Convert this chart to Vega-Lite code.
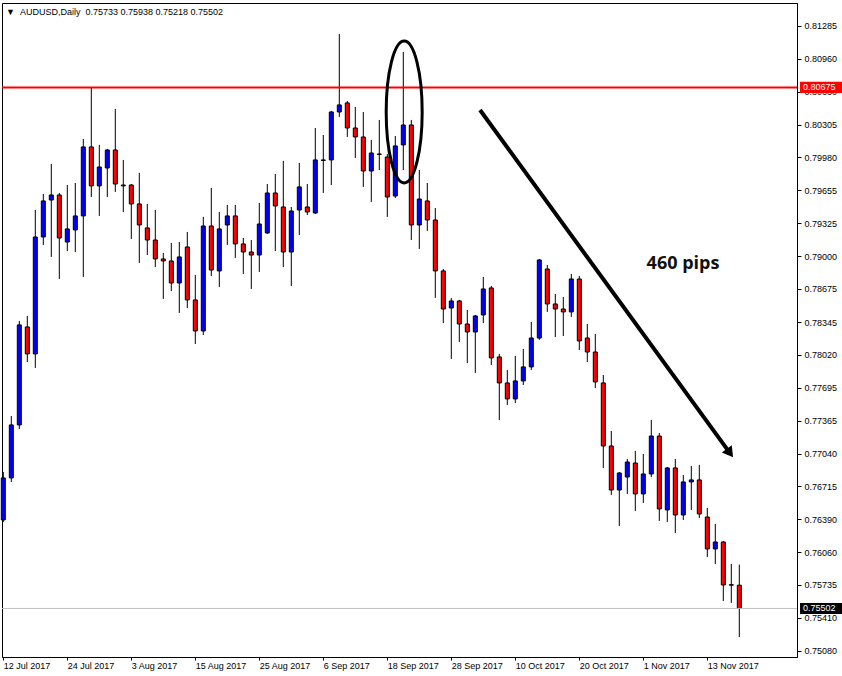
{
  "$schema": "https://vega.github.io/schema/vega-lite/v6.json",
  "width": 795,
  "height": 654,
  "autosize": {"type": "none"},
  "padding": {"left": 2, "top": 3, "right": 45, "bottom": 19},
  "background": "white",
  "config": {"view": {"stroke": "black", "strokeWidth": 1}, "font": "Liberation Sans"},
  "datasets": {
    "candles": [
      {"date":"2017-07-12","i":0,"open":0.76381,"high":0.76857,"low":0.76361,"close":0.76798},
      {"date":"2017-07-13","i":1,"open":0.76798,"high":0.77413,"low":0.76758,"close":0.77324},
      {"date":"2017-07-14","i":2,"open":0.77324,"high":0.78356,"low":0.77284,"close":0.78317},
      {"date":"2017-07-17","i":3,"open":0.78297,"high":0.78406,"low":0.77949,"close":0.78029},
      {"date":"2017-07-18","i":4,"open":0.78029,"high":0.79458,"low":0.77890,"close":0.79190},
      {"date":"2017-07-19","i":5,"open":0.79190,"high":0.79617,"low":0.79111,"close":0.79548},
      {"date":"2017-07-20","i":6,"open":0.79557,"high":0.79915,"low":0.78992,"close":0.79607},
      {"date":"2017-07-21","i":7,"open":0.79607,"high":0.79627,"low":0.78773,"close":0.79180},
      {"date":"2017-07-24","i":8,"open":0.79140,"high":0.79706,"low":0.79051,"close":0.79270},
      {"date":"2017-07-25","i":9,"open":0.79260,"high":0.79726,"low":0.79041,"close":0.79399},
      {"date":"2017-07-26","i":10,"open":0.79399,"high":0.80163,"low":0.78793,"close":0.80084},
      {"date":"2017-07-27","i":11,"open":0.80084,"high":0.80675,"low":0.79587,"close":0.79697},
      {"date":"2017-07-28","i":12,"open":0.79697,"high":0.80104,"low":0.79399,"close":0.79885},
      {"date":"2017-07-31","i":13,"open":0.79875,"high":0.80064,"low":0.79587,"close":0.80054},
      {"date":"2017-08-01","i":14,"open":0.80054,"high":0.80461,"low":0.79637,"close":0.79716},
      {"date":"2017-08-02","i":15,"open":0.79706,"high":0.79955,"low":0.79438,"close":0.79697},
      {"date":"2017-08-03","i":16,"open":0.79706,"high":0.79716,"low":0.79170,"close":0.79518},
      {"date":"2017-08-04","i":17,"open":0.79518,"high":0.79826,"low":0.78932,"close":0.79309},
      {"date":"2017-08-07","i":18,"open":0.79280,"high":0.79518,"low":0.79011,"close":0.79160},
      {"date":"2017-08-08","i":19,"open":0.79160,"high":0.79458,"low":0.78892,"close":0.78972},
      {"date":"2017-08-09","i":20,"open":0.78972,"high":0.79031,"low":0.78575,"close":0.78952},
      {"date":"2017-08-10","i":21,"open":0.78952,"high":0.79131,"low":0.78654,"close":0.78733},
      {"date":"2017-08-11","i":22,"open":0.78733,"high":0.79140,"low":0.78436,"close":0.78992},
      {"date":"2017-08-14","i":23,"open":0.79091,"high":0.79240,"low":0.78485,"close":0.78565},
      {"date":"2017-08-15","i":24,"open":0.78565,"high":0.78813,"low":0.78128,"close":0.78257},
      {"date":"2017-08-16","i":25,"open":0.78257,"high":0.79389,"low":0.78217,"close":0.79299},
      {"date":"2017-08-17","i":26,"open":0.79299,"high":0.79677,"low":0.78803,"close":0.78862},
      {"date":"2017-08-18","i":27,"open":0.78853,"high":0.79438,"low":0.78694,"close":0.79270},
      {"date":"2017-08-21","i":28,"open":0.79309,"high":0.79508,"low":0.79111,"close":0.79399},
      {"date":"2017-08-22","i":29,"open":0.79399,"high":0.79508,"low":0.78982,"close":0.79121},
      {"date":"2017-08-23","i":30,"open":0.79121,"high":0.79180,"low":0.78823,"close":0.79041},
      {"date":"2017-08-24","i":31,"open":0.79041,"high":0.79160,"low":0.78674,"close":0.79011},
      {"date":"2017-08-25","i":32,"open":0.79011,"high":0.79528,"low":0.78843,"close":0.79319},
      {"date":"2017-08-28","i":33,"open":0.79230,"high":0.79716,"low":0.79220,"close":0.79627},
      {"date":"2017-08-29","i":34,"open":0.79627,"high":0.79816,"low":0.79051,"close":0.79498},
      {"date":"2017-08-30","i":35,"open":0.79488,"high":0.79945,"low":0.78892,"close":0.79041},
      {"date":"2017-08-31","i":36,"open":0.79041,"high":0.79488,"low":0.78704,"close":0.79448},
      {"date":"2017-09-01","i":37,"open":0.79458,"high":0.79925,"low":0.79210,"close":0.79687},
      {"date":"2017-09-04","i":38,"open":0.79488,"high":0.79716,"low":0.79409,"close":0.79438},
      {"date":"2017-09-05","i":39,"open":0.79428,"high":0.80272,"low":0.79419,"close":0.79955},
      {"date":"2017-09-06","i":40,"open":0.79955,"high":0.80203,"low":0.79627,"close":0.79950},
      {"date":"2017-09-07","i":41,"open":0.79955,"high":0.80441,"low":0.79706,"close":0.80431},
      {"date":"2017-09-08","i":42,"open":0.80431,"high":0.81206,"low":0.80382,"close":0.80501},
      {"date":"2017-09-11","i":43,"open":0.80521,"high":0.80540,"low":0.80183,"close":0.80272},
      {"date":"2017-09-12","i":44,"open":0.80272,"high":0.80481,"low":0.79975,"close":0.80183},
      {"date":"2017-09-13","i":45,"open":0.80183,"high":0.80431,"low":0.79687,"close":0.79845},
      {"date":"2017-09-14","i":46,"open":0.79845,"high":0.80153,"low":0.79538,"close":0.80024},
      {"date":"2017-09-15","i":47,"open":0.80014,"high":0.80352,"low":0.79855,"close":0.80010},
      {"date":"2017-09-18","i":48,"open":0.79984,"high":0.80014,"low":0.79389,"close":0.79587},
      {"date":"2017-09-19","i":49,"open":0.79597,"high":0.80193,"low":0.79577,"close":0.80094},
      {"date":"2017-09-20","i":50,"open":0.80104,"high":0.81027,"low":0.79855,"close":0.80302},
      {"date":"2017-09-21","i":51,"open":0.80302,"high":0.80352,"low":0.79160,"close":0.79309},
      {"date":"2017-09-22","i":52,"open":0.79309,"high":0.79855,"low":0.79071,"close":0.79567},
      {"date":"2017-09-25","i":53,"open":0.79548,"high":0.79726,"low":0.79250,"close":0.79359},
      {"date":"2017-09-26","i":54,"open":0.79359,"high":0.79478,"low":0.78585,"close":0.78853},
      {"date":"2017-09-27","i":55,"open":0.78853,"high":0.78872,"low":0.78336,"close":0.78475},
      {"date":"2017-09-28","i":56,"open":0.78485,"high":0.78585,"low":0.77979,"close":0.78555},
      {"date":"2017-09-29","i":57,"open":0.78555,"high":0.78565,"low":0.78148,"close":0.78326},
      {"date":"2017-10-02","i":58,"open":0.78326,"high":0.78465,"low":0.77939,"close":0.78247},
      {"date":"2017-10-03","i":59,"open":0.78247,"high":0.78416,"low":0.77840,"close":0.78406},
      {"date":"2017-10-04","i":60,"open":0.78416,"high":0.78793,"low":0.78336,"close":0.78674},
      {"date":"2017-10-05","i":61,"open":0.78684,"high":0.78704,"low":0.77919,"close":0.77989},
      {"date":"2017-10-06","i":62,"open":0.77999,"high":0.78029,"low":0.77373,"close":0.77741},
      {"date":"2017-10-09","i":63,"open":0.77741,"high":0.77870,"low":0.77522,"close":0.77582},
      {"date":"2017-10-10","i":64,"open":0.77582,"high":0.78009,"low":0.77542,"close":0.77761},
      {"date":"2017-10-11","i":65,"open":0.77761,"high":0.78078,"low":0.77721,"close":0.77900},
      {"date":"2017-10-12","i":66,"open":0.77900,"high":0.78346,"low":0.77870,"close":0.78187},
      {"date":"2017-10-13","i":67,"open":0.78187,"high":0.78970,"low":0.78168,"close":0.78962},
      {"date":"2017-10-16","i":68,"open":0.78872,"high":0.78912,"low":0.78446,"close":0.78525},
      {"date":"2017-10-17","i":69,"open":0.78525,"high":0.78624,"low":0.78197,"close":0.78475},
      {"date":"2017-10-18","i":70,"open":0.78475,"high":0.78594,"low":0.78207,"close":0.78446},
      {"date":"2017-10-19","i":71,"open":0.78446,"high":0.78823,"low":0.78396,"close":0.78773},
      {"date":"2017-10-20","i":72,"open":0.78773,"high":0.78803,"low":0.78068,"close":0.78158},
      {"date":"2017-10-23","i":73,"open":0.78187,"high":0.78326,"low":0.77949,"close":0.78048},
      {"date":"2017-10-24","i":74,"open":0.78048,"high":0.78227,"low":0.77691,"close":0.77751},
      {"date":"2017-10-25","i":75,"open":0.77741,"high":0.77820,"low":0.76897,"close":0.77115},
      {"date":"2017-10-26","i":76,"open":0.77115,"high":0.77264,"low":0.76629,"close":0.76678},
      {"date":"2017-10-27","i":77,"open":0.76678,"high":0.76857,"low":0.76321,"close":0.76847},
      {"date":"2017-10-30","i":78,"open":0.76807,"high":0.76986,"low":0.76639,"close":0.76956},
      {"date":"2017-10-31","i":79,"open":0.76946,"high":0.77066,"low":0.76470,"close":0.76639},
      {"date":"2017-11-01","i":80,"open":0.76639,"high":0.77036,"low":0.76549,"close":0.76837},
      {"date":"2017-11-02","i":81,"open":0.76837,"high":0.77373,"low":0.76807,"close":0.77214},
      {"date":"2017-11-03","i":82,"open":0.77214,"high":0.77244,"low":0.76371,"close":0.76490},
      {"date":"2017-11-06","i":83,"open":0.76480,"high":0.76907,"low":0.76361,"close":0.76897},
      {"date":"2017-11-07","i":84,"open":0.76897,"high":0.76986,"low":0.76251,"close":0.76430},
      {"date":"2017-11-08","i":85,"open":0.76430,"high":0.76827,"low":0.76381,"close":0.76758},
      {"date":"2017-11-09","i":86,"open":0.76758,"high":0.76917,"low":0.76480,"close":0.76778},
      {"date":"2017-11-10","i":87,"open":0.76778,"high":0.76927,"low":0.76400,"close":0.76440},
      {"date":"2017-11-13","i":88,"open":0.76410,"high":0.76500,"low":0.76013,"close":0.76093},
      {"date":"2017-11-14","i":89,"open":0.76093,"high":0.76341,"low":0.75944,"close":0.76162},
      {"date":"2017-11-15","i":90,"open":0.76162,"high":0.76172,"low":0.75576,"close":0.75735},
      {"date":"2017-11-16","i":91,"open":0.75738,"high":0.75944,"low":0.75557,"close":0.75733},
      {"date":"2017-11-17","i":92,"open":0.75733,"high":0.75938,"low":0.75218,"close":0.75502}
    ]
  },
  "layer": [
    {
      "data": {"name": "candles"},
      "mark": {"type": "rule", "color": "black", "strokeWidth": 1},
      "encoding": {
        "x": {
          "field": "i", "type": "quantitative",
          "scale": {"domain": [-0.1625, 99.2125], "nice": false, "zero": false, "padding": 0},
          "axis": {
            "title": null, "grid": false, "tickCount": 30,
            "values": [0, 8, 16, 24, 32, 40, 48, 56, 64, 72, 80, 88],
            "labelExpr": "['12 Jul 2017','24 Jul 2017','3 Aug 2017','15 Aug 2017','25 Aug 2017','6 Sep 2017','18 Sep 2017','28 Sep 2017','10 Oct 2017','20 Oct 2017','1 Nov 2017','13 Nov 2017'][round(datum.value / 8)]",
            "labelAlign": "left", "labelBaseline": "top", "labelPadding": 1,
            "labelFont": "Liberation Sans", "labelFontSize": 9, "labelColor": "black",
            "labelOverlap": false, "labelFlush": false,
            "tickSize": 3, "tickColor": "black", "domainColor": "black"
          }
        },
        "y": {
          "field": "low", "type": "quantitative",
          "scale": {"domain": [0.7502, 0.81513], "nice": false, "zero": false, "padding": 0},
          "axis": {
            "orient": "right", "title": null, "grid": false, "tickCount": 40,
            "values": [0.81285, 0.8096, 0.8063, 0.80305, 0.7998, 0.79655, 0.79325, 0.79, 0.78675, 0.78345, 0.7802, 0.77695, 0.77365, 0.7704, 0.76715, 0.7639, 0.7606, 0.75735, 0.7541, 0.7508],
            "format": ".5f",
            "labelAlign": "left", "labelBaseline": "middle", "labelPadding": 3,
            "labelFont": "Liberation Sans", "labelFontSize": 9, "labelColor": "black",
            "labelOverlap": false, "labelFlush": false,
            "tickSize": 4, "tickColor": "black", "domainColor": "black"
          }
        },
        "y2": {"field": "high"}
      }
    },
    {
      "data": {"name": "candles"},
      "mark": {"type": "bar", "size": 4, "stroke": "black", "strokeWidth": 1},
      "encoding": {
        "x": {"field": "i", "type": "quantitative"},
        "y": {"field": "open", "type": "quantitative"},
        "y2": {"field": "close"},
        "fill": {
          "condition": {"test": "datum.close > datum.open", "value": "#0000ff"},
          "value": "#ff0000"
        }
      }
    },
    {
      "data": {"values": [{}]},
      "mark": {"type": "rule", "color": "#ff0000", "strokeWidth": 2},
      "encoding": {"y": {"datum": 0.80675, "type": "quantitative"}}
    },
    {
      "data": {"values": [{}]},
      "mark": {"type": "rule", "color": "#c0c0c0", "strokeWidth": 1},
      "encoding": {"y": {"datum": 0.75502, "type": "quantitative"}}
    },
    {
      "data": {"values": [{}]},
      "mark": {
        "type": "point",
        "shape": "M -0.2535 0 A 0.2535 1 0 1 0 0.2535 0 A 0.2535 1 0 1 0 -0.2535 0 Z",
        "filled": false, "stroke": "black", "strokeWidth": 3, "size": 20164, "opacity": 1
      },
      "encoding": {
        "x": {"datum": 50.11, "type": "quantitative"},
        "y": {"datum": 0.80431, "type": "quantitative"}
      }
    },
    {
      "data": {"values": [{}]},
      "mark": {"type": "rule", "color": "black", "strokeWidth": 4},
      "encoding": {
        "x": {"datum": 59.59, "type": "quantitative"},
        "y": {"datum": 0.80451, "type": "quantitative"},
        "x2": {"datum": 90.7},
        "y2": {"datum": 0.77059}
      }
    },
    {
      "data": {"values": [{}]},
      "mark": {"type": "point", "shape": "triangle", "filled": true, "color": "black", "size": 150, "angle": 143.8, "opacity": 1},
      "encoding": {
        "x": {"datum": 90.7, "type": "quantitative"},
        "y": {"datum": 0.77059, "type": "quantitative"}
      }
    },
    {
      "data": {"values": [{}]},
      "mark": {"type": "text", "font": "Open Sans", "fontWeight": "bold", "fontSize": 18, "align": "center", "baseline": "middle", "color": "#111111"},
      "encoding": {
        "x": {"datum": 84.96, "type": "quantitative"},
        "y": {"datum": 0.78922, "type": "quantitative"},
        "text": {"value": "460 pips"}
      }
    },
    {
      "data": {"values": [{}]},
      "mark": {"type": "text", "font": "Liberation Sans", "fontSize": 9, "align": "left", "baseline": "middle", "color": "black"},
      "encoding": {
        "x": {"datum": 0.34, "type": "quantitative"},
        "y": {"datum": 0.81424, "type": "quantitative"},
        "text": {"value": "▼\u00a0\u00a0AUDUSD,Daily\u00a0\u00a00.75733 0.75938 0.75218 0.75502"}
      }
    },
    {
      "data": {"values": [{}]},
      "mark": {"type": "rect", "color": "#ff0000"},
      "encoding": {
        "x": {"datum": 99.59, "type": "quantitative"},
        "x2": {"datum": 104.9},
        "y": {"datum": 0.8073, "type": "quantitative"},
        "y2": {"datum": 0.8062}
      }
    },
    {
      "data": {"values": [{}]},
      "mark": {"type": "text", "font": "Liberation Sans", "fontSize": 9, "align": "left", "baseline": "middle", "color": "white"},
      "encoding": {
        "x": {"datum": 99.96, "type": "quantitative"},
        "y": {"datum": 0.80675, "type": "quantitative"},
        "text": {"value": "0.80675"}
      }
    },
    {
      "data": {"values": [{}]},
      "mark": {"type": "rect", "color": "black"},
      "encoding": {
        "x": {"datum": 99.59, "type": "quantitative"},
        "x2": {"datum": 104.9},
        "y": {"datum": 0.75557, "type": "quantitative"},
        "y2": {"datum": 0.75447}
      }
    },
    {
      "data": {"values": [{}]},
      "mark": {"type": "text", "font": "Liberation Sans", "fontSize": 9, "align": "left", "baseline": "middle", "color": "white"},
      "encoding": {
        "x": {"datum": 99.96, "type": "quantitative"},
        "y": {"datum": 0.75502, "type": "quantitative"},
        "text": {"value": "0.75502"}
      }
    }
  ]
}
